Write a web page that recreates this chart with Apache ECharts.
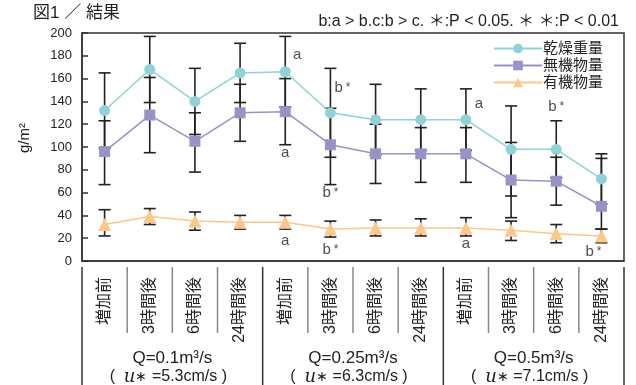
<!DOCTYPE html>
<html>
<head>
<meta charset="utf-8">
<script src="https://cdn.jsdelivr.net/npm/echarts@6/dist/echarts.min.js"></script>
<style>
  html, body { margin: 0; padding: 0; background: #fff; }
  #chart { width: 636px; height: 385px; }
</style>
</head>
<body>
<div id="chart"></div>
<script>
const categories = ['増加前', '3時間後', '6時間後', '24時間後', '増加前', '3時間後', '6時間後', '24時間後', '増加前', '3時間後', '6時間後', '24時間後']
const yTicks = [0, 20, 40, 60, 80, 100, 120, 140, 160, 180, 200]

const seriesNames = ['乾燥重量', '無機物量', '有機物量']
// mean / upper error / lower error
const dryMean = [132, 168, 140, 165, 166, 130, 124, 124, 124, 98, 98, 72]
const dryUp = [33, 29, 29, 26, 31, 39, 31, 27, 27, 38, 25, 22]
const dryDown = [33, 29, 29, 26, 31, 39, 31, 27, 27, 41, 25, 22]
const inorgMean = [96, 128, 105, 130, 131, 102, 94, 94, 94, 71, 70, 48]
const inorgUp = [27, 33, 25, 25, 29, 32, 26, 23, 23, 33, 21, 42]
const inorgDown = [29, 33, 27, 25, 29, 35, 26, 25, 25, 33, 21, 20]
const orgMean = [32, 39, 35, 34, 34, 28, 29, 29, 29, 27, 24, 22]
const orgUp = [13, 7, 8, 6, 6, 7, 7, 8, 9, 8, 8, 6]
const orgDown = [10, 7, 8, 6, 6, 7, 7, 7, 7, 9, 8, 6]

// significance letters: category index, value, text
const annCat = [4, 4, 4, 5, 5, 5, 8, 8, 10, 11]
const annValue = [181, 95, 18, 152, 60, 10, 138, 15, 135, 8]
const annText = ['a', 'a', 'a', 'b*', 'b*', 'b*', 'a', 'a', 'b*', 'b*']
const annDx = [12, 0, 0, 12, 0, 0, 13, 0, 0, -8]

const groupQ = ['0.1', '0.25', '0.5']
const groupU = ['5.3', '6.3', '7.1']

const colors = ['#90d2d6', '#9694c4', '#fcc78a']
const symbols = ['circle', 'rect', 'triangle']
const FONT = "'Liberation Sans', 'Noto Sans CJK JP', sans-serif"

const chart = echarts.init(document.getElementById('chart'))

const errorSeries = (mean, up, down) => ({
  type: 'custom',
  z: 1,
  silent: true,
  data: mean.map((m, i) => [i, m, m + up[i], m - down[i]]),
  renderItem: (params, api) => {
    const top = api.coord([api.value(0), api.value(2)])
    const bot = api.coord([api.value(0), api.value(3)])
    const w = 6
    const style = { stroke: '#222', lineWidth: 1.6 }
    return {
      type: 'group',
      children: [
        { type: 'line', shape: { x1: top[0], y1: top[1], x2: bot[0], y2: bot[1] }, style },
        { type: 'line', shape: { x1: top[0] - w, y1: top[1], x2: top[0] + w, y2: top[1] }, style },
        { type: 'line', shape: { x1: bot[0] - w, y1: bot[1], x2: bot[0] + w, y2: bot[1] }, style }
      ]
    }
  }
})

const lineSeries = (name, mean, idx) => ({
  name,
  type: 'line',
  z: 3,
  data: mean,
  symbol: symbols[idx],
  symbolSize: idx === 2 ? 13 : 11,
  color: colors[idx],
  lineStyle: { width: 1.5, color: colors[idx] },
  itemStyle: { color: colors[idx] }
})

const option = {
  animation: false,
  textStyle: { fontFamily: FONT },
  title: [
    {
      text: '図1 ／ 結果',
      left: 28,
      top: 0,
      textStyle: { fontSize: 17, fontWeight: 'normal', color: '#222', fontFamily: FONT }
    },
    {
      text: 'b:a > b.c:b > c. ＊:P < 0.05. ＊ ＊:P < 0.01',
      right: 12,
      top: 9,
      textStyle: { fontSize: 16, fontWeight: 'normal', color: '#222', fontFamily: FONT }
    }
  ],
  legend: {
    orient: 'vertical',
    left: 488,
    top: 36,
    itemWidth: 48,
    itemHeight: 12,
    itemGap: 2,
    data: seriesNames,
    textStyle: { fontSize: 15, color: '#222', fontFamily: FONT, padding: [0, 0, 0, -4] }
  },
  grid: {
    left: 82,
    right: 12,
    top: 33,
    bottom: 124,
    show: true,
    borderColor: '#333',
    borderWidth: 1.5,
    containLabel: false
  },
  xAxis: {
    type: 'category',
    data: categories,
    boundaryGap: true,
    axisLine: { lineStyle: { color: '#333', width: 1.5 } },
    axisTick: { show: false },
    axisLabel: {
      rotate: 90,
      margin: 16,
      interval: 0,
      fontSize: 16,
      color: '#222'
    }
  },
  yAxis: {
    type: 'value',
    min: yTicks[0],
    max: yTicks[yTicks.length - 1],
    interval: yTicks[1] - yTicks[0],
    axisLine: { show: true, lineStyle: { color: '#333', width: 1.5 } },
    axisTick: { show: true, inside: true, length: 6, lineStyle: { color: '#333', width: 1.5 } },
    axisLabel: { fontSize: 13, color: '#222', margin: 10 },
    splitLine: { show: false }
  },
  series: [
    errorSeries(dryMean, dryUp, dryDown),
    errorSeries(inorgMean, inorgUp, inorgDown),
    errorSeries(orgMean, orgUp, orgDown),
    lineSeries(seriesNames[0], dryMean, 0),
    lineSeries(seriesNames[1], inorgMean, 1),
    lineSeries(seriesNames[2], orgMean, 2),
    {
      type: 'scatter',
      z: 4,
      silent: true,
      symbolSize: 0,
      data: annCat.map((c, i) => ({
        value: [c, annValue[i]],
        label: { offset: [annDx[i], 0] }
      })),
      label: {
        show: true,
        position: 'inside',
        fontSize: 15,
        color: '#222',
        formatter: (p) => annText[p.dataIndex].replace('*', '{s|*}'),
        rich: { s: { fontSize: 12, color: '#222', padding: [0, 0, 0, 3] } }
      }
    }
  ]
}

chart.setOption(option)

// separators, group labels and the y axis name
const xAt = (i) => chart.convertToPixel({ xAxisIndex: 0 }, i)
const axisY = chart.convertToPixel({ yAxisIndex: 0 }, 0)
const band = xAt(1) - xAt(0)
const graphics = []
for (let i = 0; i <= categories.length; i++) {
  const x = xAt(0) - band / 2 + band * i
  const major = i % 4 === 0
  graphics.push({
    type: 'line',
    shape: { x1: x, y1: axisY + 6, x2: x, y2: major ? 385 : axisY + 72 },
    style: { stroke: major ? '#333' : '#888', lineWidth: 1.5 }
  })
}
groupQ.forEach((q, g) => {
  const cx = (xAt(g * 4) + xAt(g * 4 + 3)) / 2
  graphics.push({
    type: 'text',
    x: cx,
    y: 358,
    style: {
      text: 'Q=' + q + 'm³/s',
      font: '17px ' + FONT,
      fill: '#222',
      align: 'center',
      verticalAlign: 'middle'
    }
  })
  graphics.push({
    type: 'text',
    x: cx - 4,
    y: 377,
    style: {
      text: '(  {u|u}{s|∗} =' + groupU[g] + 'cm/s )',
      font: '16px ' + FONT,
      fill: '#222',
      align: 'center',
      verticalAlign: 'middle',
      rich: {
        u: { fontFamily: "'DejaVu Serif', serif", fontStyle: 'italic', fontSize: 18, fill: '#222' },
        s: { fontSize: 14, fill: '#222' }
      }
    }
  })
})
graphics.push({
  type: 'text',
  x: 25,
  y: 138,
  rotation: Math.PI / 2,
  style: {
    text: 'g/m²',
    font: '15px ' + FONT,
    fill: '#222',
    align: 'center',
    verticalAlign: 'middle'
  }
})
chart.setOption({ graphic: graphics })
</script>
</body>
</html>
